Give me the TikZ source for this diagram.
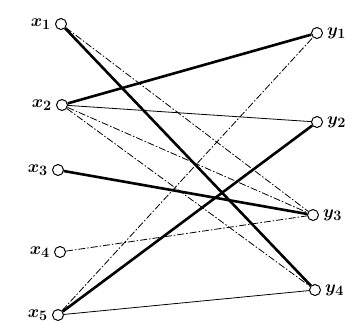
\documentclass[tikz,border=0pt]{standalone}
\usepackage{amsmath,amssymb,bm}
\usetikzlibrary{positioning}
\begin{document}
\begin{tikzpicture}[x=1pt,y=-1pt,
  v/.style={draw,circle,line width=1pt,fill=white,minimum size=11pt,inner sep=0pt},
  lb/.style={font=\fontsize{19}{21}\selectfont,inner sep=1pt},
  hv/.style={line width=2.6pt},
  lt/.style={line width=0.8pt},
  dd/.style={line width=0.8pt,dash pattern=on 7pt off 2pt on 1.5pt off 2pt}]
\useasboundingbox (0,0) rectangle (359,325);

% left column
\node[v] (x1) at (61,24)  {};
\node[v] (x2) at (62,105) {};
\node[v] (x3) at (58,170) {};
\node[v] (x4) at (60,252) {};
\node[v] (x5) at (58,315) {};
\node[lb,left=3pt of x1] (lx1) {$\bm{x_1}$};
\node[lb,left=3pt of x2] (lx2) {$\bm{x_2}$};
\node[lb,left=3pt of x3] (lx3) {$\bm{x_3}$};
\node[lb,left=3pt of x4] (lx4) {$\bm{x_4}$};
\node[lb,left=3pt of x5] (lx5) {$\bm{x_5}$};

% right column
\node[v] (y1) at (317,33)  {};
\node[v] (y2) at (317,122) {};
\node[v] (y3) at (313,215) {};
\node[v] (y4) at (315,290) {};
\node[lb,right=3pt of y1] (ly1) {$\bm{y_1}$};
\node[lb,right=3pt of y2] (ly2) {$\bm{y_2}$};
\node[lb,right=3pt of y3] (ly3) {$\bm{y_3}$};
\node[lb,right=3pt of y4] (ly4) {$\bm{y_4}$};

% heavy edges
\draw[hv] (x1) -- (y4);
\draw[hv] (x2) -- (y1);
\draw[hv] (x3) -- (y3);
\draw[hv] (x5) -- (y2);

% light edges
\draw[lt] (x2) -- (y2);
\draw[lt] (x5) -- (y4);
\draw[dd] (x1) -- (y3);
\draw[dd] (x2) -- (y3);
\draw[dd] (x2) -- (y4);
\draw[dd] (x4) -- (y3);
\draw[dd] (x5) -- (y1);
\end{tikzpicture}
\end{document}
